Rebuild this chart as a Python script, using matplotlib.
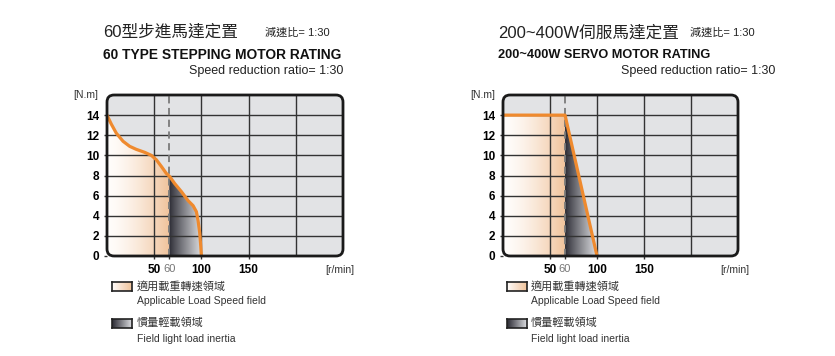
import numpy as np
import matplotlib.pyplot as plt
from matplotlib.patches import FancyBboxPatch
from matplotlib.colors import to_rgb

plt.rcParams['font.family'] = ['Liberation Sans', 'Noto Sans CJK TC', 'DejaVu Sans']

# data
speed_ticks = [50, 100, 150]
grid_x = [50, 100, 150, 200]
torque_ticks = [0, 2, 4, 6, 8, 10, 12, 14]
rated_speed = 66          # dashed line marked "60"
rated_label = '60'

stepper_speed = [0, 4.6, 9.9, 17, 24, 31, 40, 47, 52.3, 57.6, 62.9, 66.4, 71.7, 78.8, 85.9, 91.2, 94.7, 96.5, 98.2, 99.3, 100]
stepper_torque = [14, 13.1, 12.2, 11.4, 10.9, 10.6, 10.3, 10.0, 9.56, 8.9, 8.2, 7.9, 7.2, 6.4, 5.5, 5.0, 4.4, 3.5, 2.3, 1.0, 0]

servo_speed = [0, 66, 100]
servo_torque = [14, 14, 0]

ORANGE = '#ef8a2e'
BG = '#e2e3e5'


def gradient(ax, x0, x1, c0, c1, clip, power=1.0):
	t = np.linspace(0, 1, 256) ** power
	a, b = np.array(to_rgb(c0)), np.array(to_rgb(c1))
	img = (a[None, :] * (1 - t[:, None]) + b[None, :] * t[:, None])[None, :, :]
	im = ax.imshow(img, extent=[x0, x1, 0, 16], aspect='auto', origin='lower', zorder=1, interpolation='bilinear')
	im.set_clip_path(clip.get_paths()[0], ax.transData)


def draw_chart(ax, xs, ys):
	ax.patch.set_visible(False)
	for s in ax.spines.values():
		s.set_visible(False)
	bg = FancyBboxPatch((0, 0), 1, 1, boxstyle='round,pad=0,rounding_size=0.03', mutation_aspect=236 / 161,
		transform=ax.transAxes, facecolor=BG, edgecolor='none', zorder=0, clip_on=False)
	ax.add_patch(bg)

	xs = np.array(xs, float)
	ys = np.array(ys, float)
	# applicable load/speed field: under curve, left of rated speed
	xx = np.linspace(0, rated_speed, 200)
	yy = np.interp(xx, xs, ys)
	p1 = ax.fill_between(xx, 0, yy, color='none', lw=0)
	gradient(ax, 0, rated_speed, '#fffdfb', '#f0c29a', p1, power=1.5)
	# light load inertia field: under curve, right of rated speed
	xx2 = np.linspace(rated_speed, 100, 200)
	yy2 = np.interp(xx2, xs, ys)
	p2 = ax.fill_between(xx2, 0, yy2, color='none', lw=0)
	gradient(ax, rated_speed, 100, '#2a2a33', '#dcdde0', p2, power=0.9)
	ax.set_xlim(0, 250)
	ax.set_ylim(0, 16)

	for g in grid_x:
		ax.axvline(g, color='#333333', lw=1, zorder=2)
	for g in torque_ticks[1:]:
		ax.axhline(g, color='#333333', lw=1, zorder=2)
	ax.axvline(rated_speed, color='#7a7a7a', lw=1.3, ls=(0, (4, 2.5)), zorder=2.5)

	ax.plot(xs, ys, color=ORANGE, lw=2.3, zorder=3, solid_capstyle='butt', solid_joinstyle='round')

	border = FancyBboxPatch((0, 0), 1, 1, boxstyle='round,pad=0,rounding_size=0.03', mutation_aspect=236 / 161,
		transform=ax.transAxes, facecolor='none', edgecolor='#1a1a1a', lw=2, zorder=5, clip_on=False)
	ax.add_patch(border)

	ax.set_yticks(torque_ticks)
	ax.set_yticklabels([str(t) for t in torque_ticks], fontsize=8.5, fontweight='bold')
	ax.set_xticks(speed_ticks[:1] + [rated_speed] + speed_ticks[1:])
	labels = ax.set_xticklabels(['50', rated_label, '100', '150'], fontsize=8.5, fontweight='bold')
	labels[1].set_fontweight('normal')
	labels[1].set_color('#777777')
	labels[1].set_fontsize(8)
	ax.tick_params(length=2, width=1, color='#333333', pad=3.5)
	ax.text(-0.035, 1.0, '[N.m]', transform=ax.transAxes, ha='right', va='center', fontsize=7.5, color='#333333')
	ax.text(1.05, -0.085, '[r/min]', transform=ax.transAxes, ha='right', va='center', fontsize=7.5, color='#333333')


def legend_box(fig, x, y, c0, c1):
	lax = fig.add_axes([x / 835, 1 - (y + 9) / 356, 20 / 835, 9 / 356])
	t = np.linspace(0, 1, 64)
	a, b = np.array(to_rgb(c0)), np.array(to_rgb(c1))
	img = (a[None, :] * (1 - t[:, None]) + b[None, :] * t[:, None])[None, :, :]
	lax.imshow(img, aspect='auto', extent=[0, 1, 0, 1])
	lax.set_xticks([])
	lax.set_yticks([])
	for s in lax.spines.values():
		s.set_linewidth(1.2)
		s.set_color('#222222')


fig = plt.figure(figsize=(8.35, 3.56), dpi=100)
ax1 = fig.add_axes([107 / 835, 1 - 256 / 356, 236 / 835, 161 / 356])
ax2 = fig.add_axes([503 / 835, 1 - 256 / 356, 235 / 835, 161 / 356])
draw_chart(ax1, stepper_speed, stepper_torque)
draw_chart(ax2, servo_speed, servo_torque)


def ft(x, y, s, **kw):
	fig.text(x / 835, 1 - y / 356, s, va='center', **kw)


ft(103, 32, '60型步進馬達定置', fontsize=12, color='#222222')
ft(265, 33, '減速比= 1:30', fontsize=8, color='#222222')
ft(103, 55, '60 TYPE STEPPING MOTOR RATING', fontsize=9.9, fontweight='bold', color='#111111')
ft(343, 71, 'Speed reduction ratio= 1:30', fontsize=9, ha='right', color='#222222')

ft(498, 33, '200~400W伺服馬達定置', fontsize=12, color='#222222')
ft(690, 33, '減速比= 1:30', fontsize=8, color='#222222')
ft(498, 55, '200~400W SERVO MOTOR RATING', fontsize=9.2, fontweight='bold', color='#111111')
ft(775, 71, 'Speed reduction ratio= 1:30', fontsize=9, ha='right', color='#222222')

for lx, tx in [(112, 137), (507, 531)]:
	legend_box(fig, lx, 282, '#fffdfb', '#f0c29a')
	legend_box(fig, lx, 319, '#2a2a33', '#dcdde0')
	ft(tx, 286, '適用載重轉速領域', fontsize=8, color='#333333')
	ft(tx, 301, 'Applicable Load Speed field', fontsize=7.5, color='#333333')
	ft(tx, 323, '慣量輕載領域', fontsize=8, color='#333333')
	ft(tx, 339, 'Field light load inertia', fontsize=7.5, color='#333333')

fig.savefig('out.png', dpi=100, facecolor='white')
